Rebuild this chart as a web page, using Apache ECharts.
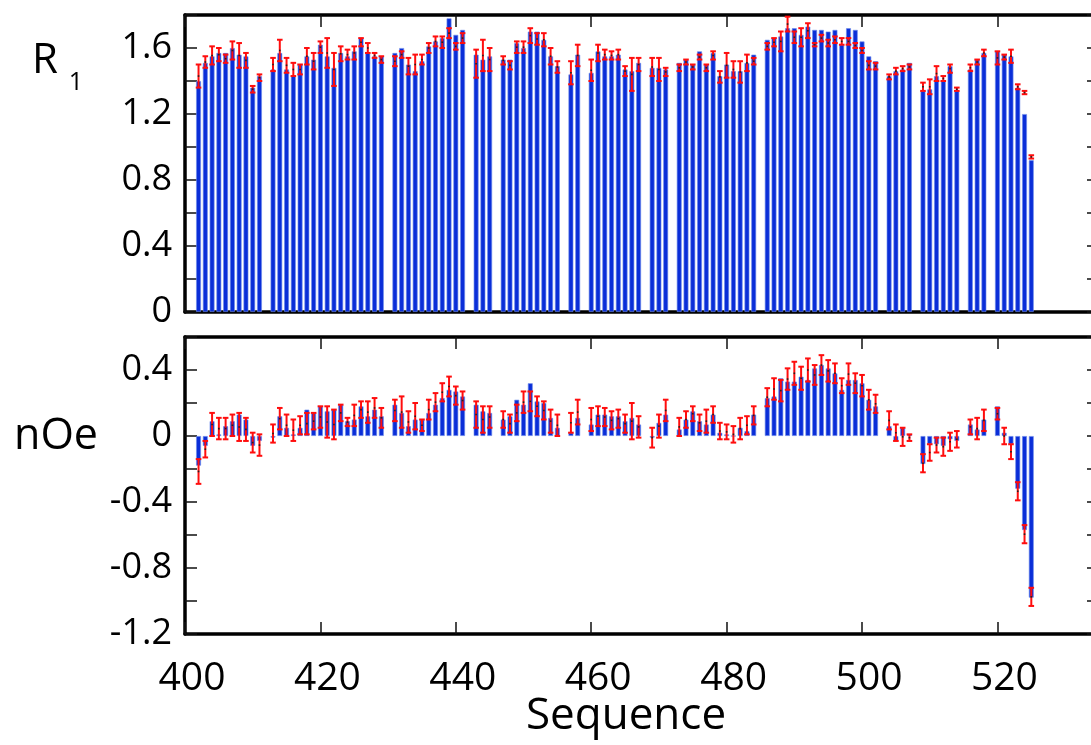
<!DOCTYPE html>
<html>
<head>
<meta charset="utf-8">
<script src="https://cdn.jsdelivr.net/npm/echarts@6.0.0/dist/echarts.min.js"></script>
<style>
html,body{margin:0;padding:0;background:#fff;}
#chart{width:1091px;height:745px;}
</style>
</head>
<body>
<div id="chart"></div>
<script>
// ---- data ----
const residues = [402,403,404,405,406,407,408,409,410,411,
  413,414,415,416,417,418,419,420,421,422,423,424,425,426,427,428,429,
  431,432,433,434,435,436,437,438,439,440,441,
  443,444,445,
  447,448,449,450,451,452,453,454,455,
  457,458,
  460,461,462,463,464,465,466,467,
  469,470,471,
  473,474,475,476,477,478,479,480,481,482,483,484,
  486,487,488,489,490,491,492,493,494,495,496,497,498,499,500,501,502,
  504,505,506,507,
  509,510,511,512,513,514,
  516,517,518,
  520,521,522,523,524,525];

const r1Values = [1.40,1.51,1.55,1.57,1.57,1.60,1.56,1.55,1.36,1.43,
  1.47,1.57,1.47,1.43,1.50,1.55,1.53,1.62,1.55,1.48,1.57,1.55,1.58,1.66,1.57,1.55,1.55,
  1.57,1.60,1.50,1.46,1.52,1.61,1.64,1.66,1.78,1.68,1.71,
  1.56,1.53,1.55,
  1.53,1.53,1.63,1.60,1.70,1.70,1.65,1.55,1.49,
  1.44,1.56,
  1.45,1.58,1.55,1.55,1.56,1.47,1.46,1.51,
  1.48,1.48,1.47,
  1.51,1.53,1.50,1.58,1.50,1.57,1.43,1.50,1.46,1.46,1.51,1.56,
  1.65,1.66,1.67,1.72,1.72,1.68,1.73,1.71,1.71,1.70,1.71,1.62,1.72,1.71,1.64,1.55,1.52,
  1.43,1.46,1.47,1.51,
  1.34,1.35,1.43,1.40,1.49,1.34,
  1.47,1.53,1.57,
  1.58,1.56,1.55,1.36,1.20,0.92];

const r1Low = [1.36,1.48,1.50,1.52,1.51,1.53,1.48,1.48,1.33,1.40,
  1.46,1.52,1.45,1.43,1.44,1.50,1.47,1.57,1.48,1.37,1.52,1.53,1.53,1.61,1.57,1.54,1.51,
  1.49,1.54,1.44,1.44,1.50,1.57,1.61,1.60,1.66,1.59,1.63,
  1.42,1.46,1.46,
  1.50,1.47,1.57,1.57,1.63,1.62,1.61,1.50,1.45,
  1.38,1.49,
  1.40,1.52,1.53,1.53,1.53,1.43,1.34,1.46,
  1.43,1.40,1.43,
  1.46,1.50,1.47,1.53,1.46,1.53,1.39,1.42,1.42,1.39,1.46,1.50,
  1.59,1.61,1.58,1.70,1.63,1.61,1.66,1.61,1.64,1.61,1.63,1.62,1.62,1.60,1.57,1.47,1.47,
  1.41,1.44,1.46,1.47,
  1.34,1.32,1.40,1.40,1.45,1.34,
  1.46,1.50,1.55,
  1.50,1.53,1.51,1.35,1.32,0.93];

const r1High = [1.50,1.55,1.61,1.60,1.56,1.64,1.63,1.57,1.37,1.44,
  1.54,1.65,1.54,1.51,1.50,1.60,1.57,1.64,1.66,1.57,1.61,1.59,1.61,1.66,1.63,1.57,1.55,
  1.55,1.58,1.54,1.56,1.56,1.63,1.67,1.67,1.72,1.63,1.69,
  1.59,1.65,1.60,
  1.55,1.52,1.64,1.64,1.72,1.69,1.69,1.60,1.52,
  1.52,1.62,
  1.53,1.62,1.59,1.58,1.59,1.49,1.54,1.54,
  1.54,1.54,1.48,
  1.50,1.53,1.50,1.56,1.50,1.58,1.46,1.57,1.52,1.52,1.56,1.54,
  1.63,1.66,1.70,1.79,1.70,1.72,1.75,1.63,1.68,1.65,1.67,1.66,1.66,1.63,1.60,1.52,1.51,
  1.44,1.48,1.49,1.50,
  1.39,1.41,1.49,1.43,1.50,1.36,
  1.50,1.53,1.59,
  1.58,1.56,1.59,1.38,1.34,0.95];

const noeValues = [-0.18,-0.06,0.09,0.01,0.06,0.09,0.13,0.10,-0.06,-0.03,
  -0.01,0.12,0.05,0.01,0.05,0.16,0.14,0.18,0.15,0.16,0.19,0.09,0.10,0.18,0.12,0.16,0.12,
  0.19,0.14,0.06,0.10,0.10,0.14,0.19,0.23,0.28,0.27,0.24,
  0.19,0.15,0.14,
  0.10,0.12,0.22,0.19,0.32,0.21,0.20,0.11,0.05,
  0.02,0.11,
  0.07,0.13,0.13,0.12,0.12,0.09,0.11,0.07,
  -0.01,0.08,0.13,
  0.04,0.10,0.15,0.09,0.07,0.13,0.02,0.01,0.00,0.05,0.03,0.13,
  0.23,0.24,0.35,0.33,0.33,0.36,0.34,0.41,0.43,0.41,0.38,0.28,0.34,0.34,0.32,0.22,0.18,
  0.06,-0.03,0.05,0.01,
  -0.17,-0.05,-0.05,-0.06,-0.02,-0.03,
  0.07,0.04,0.10,
  0.18,0.02,-0.05,-0.32,-0.57,-0.98];

const noeLow = [-0.29,-0.13,0.00,-0.02,-0.02,0.00,-0.03,-0.03,-0.10,-0.12,
  -0.04,0.04,0.00,-0.03,0.01,0.01,0.04,0.05,-0.01,-0.02,0.09,0.06,0.06,0.11,0.08,0.11,0.05,
  0.09,0.05,0.02,0.04,0.03,0.10,0.15,0.21,0.24,0.19,0.16,
  0.05,0.02,0.05,
  0.05,0.02,0.09,0.14,0.15,0.12,0.10,0.02,0.00,
  0.02,0.07,
  0.03,0.06,0.06,0.04,0.05,0.02,-0.02,-0.01,
  -0.07,-0.01,0.09,
  0.00,0.05,0.09,0.03,0.02,0.08,-0.02,-0.02,-0.04,-0.02,0.01,0.07,
  0.18,0.22,0.21,0.28,0.31,0.28,0.33,0.31,0.37,0.33,0.32,0.26,0.31,0.26,0.24,0.16,0.14,
  0.04,-0.03,-0.06,-0.03,
  -0.22,-0.15,-0.10,-0.12,-0.09,-0.07,
  0.01,-0.02,0.03,
  0.10,-0.05,-0.14,-0.39,-0.65,-1.03];

const noeHigh = [-0.14,-0.03,0.14,0.11,0.11,0.13,0.14,0.11,0.02,0.01,
  0.07,0.17,0.13,0.10,0.12,0.14,0.14,0.18,0.18,0.16,0.19,0.11,0.19,0.21,0.21,0.23,0.17,
  0.22,0.24,0.15,0.20,0.10,0.22,0.26,0.32,0.36,0.30,0.27,
  0.21,0.18,0.18,
  0.15,0.13,0.19,0.27,0.27,0.24,0.21,0.16,0.13,
  0.14,0.22,
  0.17,0.18,0.17,0.15,0.16,0.13,0.20,0.12,
  0.05,0.13,0.22,
  0.11,0.15,0.18,0.13,0.16,0.18,0.08,0.07,0.06,0.11,0.12,0.18,
  0.29,0.35,0.34,0.41,0.45,0.42,0.47,0.43,0.49,0.46,0.44,0.35,0.44,0.38,0.37,0.28,0.25,
  0.15,0.07,0.05,0.01,
  -0.11,-0.05,-0.01,-0.01,0.02,0.03,
  0.10,0.11,0.16,
  0.17,0.05,-0.05,-0.28,-0.54,-0.92];

// ---- build chart ----
const FONT = "'Open Sans', 'Noto Sans', sans-serif";
const chart = echarts.init(document.getElementById('chart'), null, {renderer: 'canvas'});

function pairs(xs, ys) { return xs.map((x, i) => [x, ys[i]]); }
function triples(xs, lo, hi) { return xs.map((x, i) => [x, lo[i], hi[i]]); }

function yLabel(v) {
  const k = Math.round(v * 10);
  if (k % 4 !== 0) return '';
  return k === 0 ? '0' : (k / 10).toFixed(1);
}
function xLabel(v) {
  return (Math.round(v) % 20 === 0 && v <= 520) ? String(Math.round(v)) : '';
}

const lineStyle = {color: '#000', width: 3.5};
const tickStyle = {show: true, inside: true, length: 12, lineStyle: {color: '#111', width: 1.5}};

function xAxis(grid, position, showLabel) {
  return {
    type: 'value', gridIndex: grid, position: position,
    min: 400, max: 535, interval: 20,
    axisLine: {show: true, onZero: false, lineStyle: lineStyle},
    axisTick: tickStyle,
    splitLine: {show: false},
    axisLabel: showLabel ? {
      show: true, formatter: xLabel, fontFamily: FONT, fontSize: 39, color: '#000',
      margin: 25, padding: [0, 0, 0, 14], showMinLabel: true, showMaxLabel: false
    } : {show: false}
  };
}
function yAxis(grid, position, min, max, showLabel) {
  return {
    type: 'value', gridIndex: grid, position: position,
    min: min, max: max, interval: 0.2,
    axisLine: {show: true, onZero: false, lineStyle: lineStyle},
    axisTick: tickStyle,
    splitLine: {show: false},
    axisLabel: showLabel ? {
      show: true, formatter: yLabel, fontFamily: FONT, fontSize: 36, color: '#000', margin: 13,
      showMinLabel: true, showMaxLabel: true
    } : {show: false}
  };
}

function errRender(params, api) {
  const x = api.value(0), lo = api.value(1), hi = api.value(2);
  const p1 = api.coord([x, lo]);
  const p2 = api.coord([x, hi]);
  const cw = 2.8;
  const st = {stroke: '#ff0d0d', lineWidth: 2};
  const mid = (p1[1] + p2[1]) / 2;
  return {
    type: 'group',
    children: [
      {type: 'line', shape: {x1: p1[0], y1: p1[1], x2: p2[0], y2: p2[1]}, style: st},
      {type: 'line', shape: {x1: p1[0] - cw, y1: p1[1], x2: p1[0] + cw, y2: p1[1]}, style: st},
      {type: 'line', shape: {x1: p2[0] - cw, y1: p2[1], x2: p2[0] + cw, y2: p2[1]}, style: st},
      {type: 'rect', shape: {x: p1[0] - 0.8, y: mid - 0.8, width: 1.6, height: 1.6}, style: {fill: '#222'}}
    ]
  };
}

const BAR = '#0a2ed8';
const barItem = {color: BAR, borderColor: 'rgba(110,140,235,0.8)', borderWidth: 0.8};

const option = {
  animation: false,
  backgroundColor: '#fff',
  grid: [
    {left: 185, top: 15, width: 914, height: 297, outerBoundsMode: 'none', containLabel: false},
    {left: 185, top: 337, width: 914, height: 297, outerBoundsMode: 'none', containLabel: false}
  ],
  xAxis: [
    xAxis(0, 'bottom', false),
    xAxis(0, 'top', false),
    xAxis(1, 'bottom', true),
    xAxis(1, 'top', false)
  ],
  yAxis: [
    yAxis(0, 'left', 0, 1.8, true),
    yAxis(0, 'right', 0, 1.8, false),
    yAxis(1, 'left', -1.2, 0.6, true),
    yAxis(1, 'right', -1.2, 0.6, false)
  ],
  series: [
    {type: 'bar', xAxisIndex: 0, yAxisIndex: 0, data: pairs(residues, r1Values),
     barWidth: 5, itemStyle: barItem, z: 2},
    {type: 'custom', xAxisIndex: 0, yAxisIndex: 0, data: triples(residues, r1Low, r1High),
     encode: {x: 0, y: [1, 2]}, renderItem: errRender, z: 3},
    {type: 'bar', xAxisIndex: 2, yAxisIndex: 2, data: pairs(residues, noeValues),
     barWidth: 5, itemStyle: barItem, z: 2},
    {type: 'custom', xAxisIndex: 2, yAxisIndex: 2, data: triples(residues, noeLow, noeHigh),
     encode: {x: 0, y: [1, 2]}, renderItem: errRender, z: 3}
  ],
  graphic: [
    {type: 'text', style: {text: 'R', x: 45, y: 61, fontFamily: FONT, fontSize: 42, fill: '#000', textAlign: 'center', textVerticalAlign: 'middle'}},
    {type: 'text', style: {text: '1', x: 76, y: 83, fontFamily: FONT, fontSize: 25, fill: '#000', textAlign: 'center', textVerticalAlign: 'middle'}},
    {type: 'text', style: {text: 'nOe', x: 56, y: 437, fontFamily: FONT, fontSize: 43, fill: '#000', textAlign: 'center', textVerticalAlign: 'middle'}},
    {type: 'text', style: {text: 'Sequence', x: 626, y: 716, fontFamily: FONT, fontSize: 44, fill: '#000', textAlign: 'center', textVerticalAlign: 'middle'}}
  ]
};
chart.setOption(option);
</script>
</body>
</html>
